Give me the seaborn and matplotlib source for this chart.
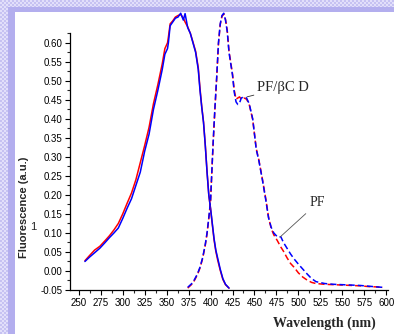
import numpy as np
import pandas as pd
import matplotlib
matplotlib.use("Agg")
import matplotlib.pyplot as plt
import seaborn as sns
from matplotlib.ticker import MultipleLocator, FormatStrFormatter

# ---------------- data ----------------
ex_wl = [257, 262, 268, 274, 280, 285, 290, 295, 300, 305, 310, 315, 320, 325,
         330, 335, 340, 345, 348, 351, 352, 354, 357, 360, 363, 366, 369, 371,
         374, 377, 380, 383, 386, 388, 390, 392, 394, 396, 398, 400, 402, 404,
         406, 408, 411, 414, 417, 421]
ex_blue = [0.025, 0.036, 0.048, 0.060, 0.075, 0.088, 0.100, 0.113, 0.138, 0.165,
           0.190, 0.225, 0.260, 0.315, 0.360, 0.425, 0.475, 0.530, 0.570, 0.585,
           0.600, 0.645, 0.655, 0.665, 0.668, 0.678, 0.660, 0.677, 0.640, 0.625,
           0.600, 0.575, 0.530, 0.475, 0.430, 0.390, 0.330, 0.260, 0.200, 0.165,
           0.125, 0.085, 0.055, 0.035, 0.005, -0.020, -0.035, -0.045]
ex_red = [0.027, 0.040, 0.055, 0.065, 0.080, 0.093, 0.108, 0.125, 0.150, 0.178,
          0.205, 0.240, 0.285, 0.330, 0.378, 0.440, 0.490, 0.545, 0.585, 0.600,
          0.615, 0.650, 0.658, 0.668, 0.672, 0.675, 0.665, 0.655, 0.642, 0.625,
          0.602, 0.578, 0.535, 0.480, 0.432, 0.392, 0.332, 0.262, 0.200, 0.163,
          0.122, 0.082, 0.052, 0.030, 0.002, -0.022, -0.036, -0.045]

em_wl = [374, 380, 385, 388, 391, 394, 396, 398, 400, 402, 403, 405, 407, 409,
         411, 413, 415, 417, 419, 421, 423, 425, 427, 429, 431, 433, 435, 438,
         441, 444, 446, 448, 450, 452, 455, 459, 463, 466, 469, 472, 476, 480,
         483, 487, 491, 495, 500, 505, 510, 515, 520, 530, 540, 550, 560, 570,
         580, 590, 596]
em_blue = [-0.043, -0.030, -0.008, 0.010, 0.035, 0.070, 0.100, 0.140, 0.185,
           0.290, 0.340, 0.430, 0.510, 0.600, 0.650, 0.672, 0.678, 0.660, 0.630,
           0.575, 0.545, 0.515, 0.470, 0.445, 0.438, 0.442, 0.455, 0.458, 0.455,
           0.440, 0.420, 0.400, 0.360, 0.320, 0.290, 0.240, 0.185, 0.140, 0.115,
           0.100, 0.090, 0.090, 0.075, 0.060, 0.045, 0.032, 0.018, 0.005, -0.008,
           -0.020, -0.028, -0.033, -0.035, -0.036, -0.037, -0.038, -0.040,
           -0.042, -0.043]
em_red = [-0.045, -0.032, -0.010, 0.008, 0.033, 0.068, 0.098, 0.138, 0.183,
          0.288, 0.338, 0.428, 0.508, 0.598, 0.648, 0.670, 0.676, 0.662, 0.632,
          0.578, 0.548, 0.518, 0.475, 0.452, 0.455, 0.458, 0.452, 0.455, 0.452,
          0.438, 0.418, 0.398, 0.360, 0.322, 0.292, 0.242, 0.188, 0.142, 0.112,
          0.095, 0.080, 0.063, 0.052, 0.035, 0.020, 0.010, -0.005, -0.016,
          -0.024, -0.030, -0.033, -0.035, -0.036, -0.037, -0.038, -0.039,
          -0.041, -0.042, -0.043]

x_ticks = [250, 275, 300, 325, 350, 375, 400, 425, 450, 475, 500, 525, 550, 575, 600]
y_ticks = [-0.05, 0.00, 0.05, 0.10, 0.15, 0.20, 0.25, 0.30, 0.35, 0.40, 0.45,
           0.50, 0.55, 0.60]

# ---------------- build long table ----------------
frames = []
for name, xs, ys in [("ex_red", ex_wl, ex_red), ("ex_blue", ex_wl, ex_blue),
                     ("em_red", em_wl, em_red), ("em_blue", em_wl, em_blue)]:
    frames.append(pd.DataFrame({"wl": xs, "val": ys, "series": name}))
df = pd.concat(frames, ignore_index=True)

sns.set_style("ticks")
plt.rcParams["font.family"] = ["Liberation Sans", "DejaVu Sans"]

W, H = 394, 334
fig = plt.figure(figsize=(W / 100, H / 100), dpi=100)
fig.patch.set_facecolor("white")

# decorative frame (top and left lavender band with checkered outer strip)
bg = np.ones((H, W, 3))
solid = np.array([0xb3, 0xae, 0xee]) / 255
c1 = np.array([0xc6, 0xc2, 0xf2]) / 255
c2 = np.array([0xe2, 0xdf, 0xfa]) / 255
bg[:12, :, :] = solid
bg[:, :15, :] = solid
yy, xx = np.mgrid[0:H, 0:W]
checker = ((yy // 2 + xx // 2) % 2 == 0)
outer = (yy < 7) | (xx < 8)
bg[outer & checker] = c1
bg[outer & ~checker] = c2
fig.figimage(bg, xo=0, yo=0, origin="upper", zorder=-10)

ax = fig.add_axes([70 / W, (H - 290) / H, (388 - 70) / W, (290 - 33) / H])
ax.set_facecolor("none")

palette = {"ex_red": "#ff0000", "ex_blue": "#0000ff",
           "em_red": "#ff0000", "em_blue": "#0000ff"}
dashes = {"ex_red": "", "ex_blue": "", "em_red": (4, 2), "em_blue": (4, 2)}
sns.lineplot(data=df, x="wl", y="val", hue="series", style="series",
             palette=palette, dashes=dashes, estimator=None, sort=False,
             legend=False, linewidth=1.1, ax=ax)
for ln in ax.lines:
    ln.set_clip_on(False)

ax.set_xlim(240, 602)
ax.set_ylim(-0.05, 0.626)
ax.set_xticks(x_ticks)
ax.set_yticks(y_ticks)
ax.xaxis.set_minor_locator(MultipleLocator(12.5))
ax.yaxis.set_minor_locator(MultipleLocator(0.025))
ax.yaxis.set_major_formatter(FormatStrFormatter("%.2f"))
ax.tick_params(axis="both", which="major", direction="out", length=3.6,
               width=0.8, labelsize=7, colors="black", pad=2)
ax.tick_params(axis="both", which="minor", direction="out", length=2.2, width=0.8)
for s in ["top", "right"]:
    ax.spines[s].set_visible(False)
for s in ["left", "bottom"]:
    ax.spines[s].set_linewidth(0.9)
    ax.spines[s].set_color("black")
ax.set_xlabel("")
ax.set_ylabel("")

# annotations
serif = ["Liberation Serif", "DejaVu Serif"]
ax.annotate("PF/\u03b2C D", xy=(441.5, 0.458), xytext=(453, 0.482),
            fontsize=10.5, family=serif, va="center", ha="left",
            arrowprops=dict(arrowstyle="-", color="#333333", lw=0.6,
                            shrinkA=0, shrinkB=0))
ax.annotate("PF", xy=(479, 0.089), xytext=(513, 0.179),
            fontsize=10, family=serif, va="center", ha="left",
            arrowprops=dict(arrowstyle="-", color="#555555", lw=0.6,
                            shrinkA=1, shrinkB=0))

fig.text(324 / W, 1 - 323 / H, "Wavelength (nm)", family=serif,
         fontweight="bold", fontsize=10, ha="center", va="center")
fig.text(24 / W, 1 - 207 / H, "Fluorescence (a.u.)", fontweight="bold",
         fontsize=8, rotation=90, ha="center", va="center")
fig.text(33 / W, 1 - 227 / H, "1", fontsize=8, ha="center", va="center")

fig.savefig("out.png", dpi=100)
